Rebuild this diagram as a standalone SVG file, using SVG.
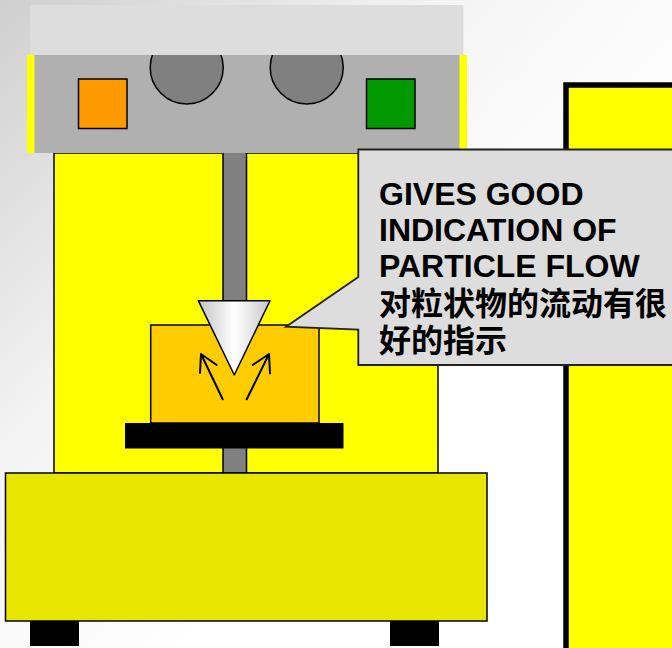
<svg xmlns="http://www.w3.org/2000/svg" width="672" height="648" viewBox="0 0 672 648">
  <defs>
    <linearGradient id="bg" x1="0" y1="0" x2="0.65" y2="0.6">
      <stop offset="0" stop-color="#cfcfcf"/>
      <stop offset="0.55" stop-color="#f4f4f4"/>
      <stop offset="1" stop-color="#ffffff"/>
    </linearGradient>
    <linearGradient id="coneShade" x1="0" y1="0" x2="1" y2="0">
      <stop offset="0" stop-color="#c4c4c4"/>
      <stop offset="0.5" stop-color="#ffffff"/>
      <stop offset="1" stop-color="#c8c8c8"/>
    </linearGradient>
    <style>
      .edge { stroke: #000; stroke-width: 1.5; }
      .yellow { fill: #ffff00; }
      .flow { fill: none; stroke: #000; stroke-width: 2; stroke-linecap: round; stroke-linejoin: round; }
      .label { font-family: "Liberation Sans", Arial, "Noto Sans CJK SC", sans-serif; font-weight: bold; font-size: 32px; fill: #000; }
    </style>
  </defs>

  <rect width="672" height="648" fill="url(#bg)"/>

  <!-- tall panel at the right edge -->
  <g id="side-panel">
    <rect x="566" y="85" width="120" height="580" class="yellow" stroke="#000" stroke-width="5.5"/>
  </g>

  <!-- main column -->
  <g id="column">
    <rect x="54" y="153" width="384" height="320" class="yellow edge" stroke-width="1.2"/>
  </g>

  <!-- drive rod -->
  <g id="rod">
    <rect x="223" y="150" width="23.5" height="323" fill="#808080" class="edge" stroke-width="1.2"/>
  </g>

  <!-- instrument head -->
  <g id="head">
    <rect x="27" y="55" width="440" height="98" class="yellow"/>
    <rect x="34.5" y="55" width="425" height="98" fill="#b0b0b0"/>
    <circle cx="186.7" cy="67.5" r="36.5" fill="#808080" class="edge"/>
    <circle cx="306.7" cy="67.5" r="36.5" fill="#808080" class="edge"/>
    <rect x="30" y="5" width="433.5" height="50" fill="#dddddd"/>
    <rect x="78.5" y="79" width="48.5" height="49.5" fill="#ff9900" class="edge" stroke-width="1.2"/>
    <rect x="366.5" y="79" width="48.5" height="49.5" fill="#009900" class="edge" stroke-width="1.2"/>
  </g>

  <!-- sample cup -->
  <g id="sample-cup">
    <rect x="150.7" y="325" width="168.3" height="98" fill="#ffcc00" class="edge"/>
  </g>

  <!-- platform -->
  <g id="platform">
    <rect x="125" y="423" width="218.5" height="25.5" fill="#000"/>
  </g>

  <!-- penetrating cone -->
  <g id="cone">
    <polygon points="198.3,300.7 270,300.7 234.3,375" fill="url(#coneShade)" class="edge" stroke-linejoin="round"/>
  </g>

  <!-- base unit and feet -->
  <g id="base">
    <rect x="5.5" y="473" width="481.5" height="148" fill="#e6e600" class="edge"/>
  </g>
  <g id="feet">
    <rect x="30" y="621" width="49" height="25" fill="#000"/>
    <rect x="390" y="621" width="49" height="25" fill="#000"/>
  </g>

  <!-- particle flow arrows -->
  <g id="connectors">
    <path class="flow" d="M222.7,399.3 L201,354 M200,373 L201,354 L216.7,365"/>
    <path class="flow" d="M246.7,399.3 L269,354 M270,373.5 L269,354 L252.7,365"/>
  </g>

  <!-- callout -->
  <g id="callout">
    <path d="M358.3,149.5 H690 V365 H358.3 V329.5 L286,326.7 L358.3,277 Z" fill="#dddddd" stroke="#222" stroke-width="1.8" stroke-linejoin="miter"/>
    <text class="label" x="379" y="205">GIVES GOOD</text>
    <text class="label" x="379" y="241">INDICATION OF</text>
    <text class="label" x="379" y="277">PARTICLE FLOW</text>
    <text class="label" x="379" y="314.5">对粒状物的流动有很</text>
    <text class="label" x="379" y="352">好的指示</text>
  </g>
</svg>
